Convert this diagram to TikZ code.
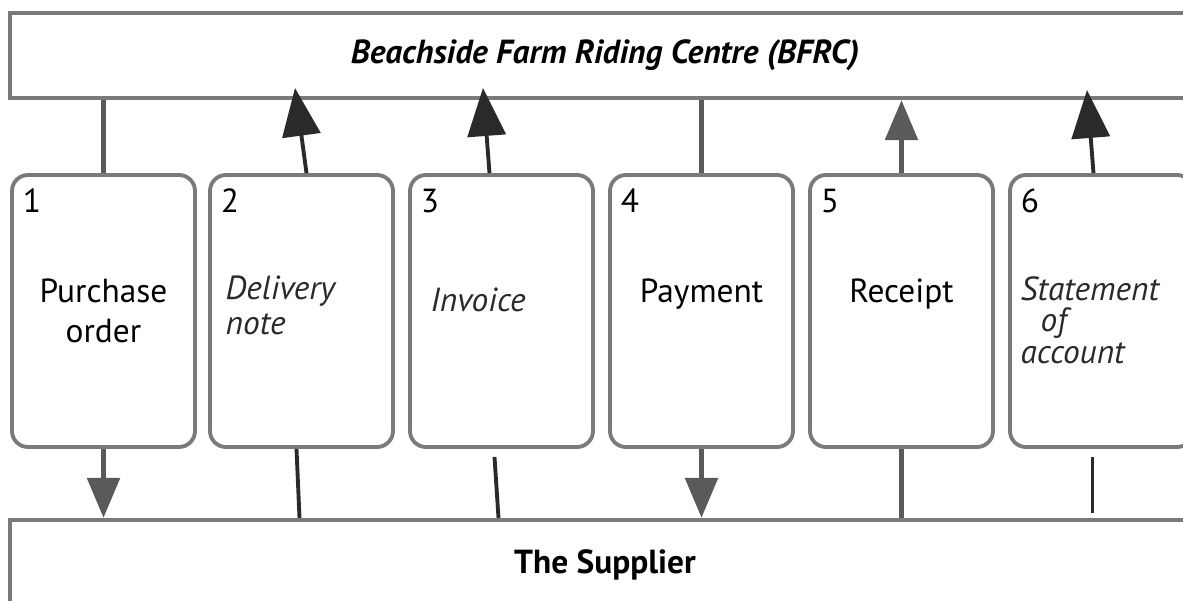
\documentclass[tikz,border=0pt]{standalone}
\usepackage{fontspec}
\setmainfont{PT Sans}
\usetikzlibrary{arrows.meta,positioning}
\definecolor{linegray}{HTML}{7A7A7A}
\definecolor{arrowgray}{HTML}{5A5A5A}
\definecolor{penink}{HTML}{2A2A2A}
\tikzset{
  party/.style={draw=linegray,line width=1.2pt,minimum width=11.9cm,inner sep=0pt},
  doc/.style={draw=linegray,line width=1.1pt,rounded corners=0.16cm,minimum width=1.83cm,minimum height=2.72cm,inner sep=0pt,align=center},
  docnum/.style={anchor=north west,inner sep=0pt},
  flow/.style={draw=arrowgray,line width=1.6pt},
  flowtip/.style={flow,-{Triangle[length=4mm,width=3.2mm]}},
  pen/.style={draw=penink,line width=1.1pt},
  pentip/.style={pen,-{Triangle[length=4.8mm,width=3.8mm]}},
  hand/.style={font=\fontsize{9.5}{11}\selectfont\itshape,text=penink,align=left,anchor=west,inner sep=0pt}
}
\begin{document}
\begin{tikzpicture}[font=\fontsize{9.5}{11.5}\selectfont]
  \useasboundingbox (0,0) rectangle (11.83,6);
  \clip (0,0) rectangle (11.83,6);
  \fill[white] (0,0) rectangle (11.83,6);
  % the two parties
  \node[party,minimum height=0.85cm] (bfrc) at (6.05,5.445) {\textbf{\textit{Beachside Farm Riding Centre (BFRC)}}};
  \node[party,minimum height=0.9cm] (sup) at (6.05,0.35) {\textbf{The Supplier}};
  % the six documents
  \node[doc] (c1) at (1.035,2.89) {Purchase\\order};
  \node[doc] (c2) at (3.015,2.89) {};
  \node[doc] (c3) at (5.015,2.89) {};
  \node[doc] (c4) at (7.015,2.89) {Payment\\\phantom{x}};
  \node[doc] (c5) at (9.015,2.89) {Receipt\\\phantom{x}};
  \node[doc] (c6) at (11.015,2.89) {};
  \node[docnum] (n1) at ([xshift=0.12cm,yshift=-0.15cm]c1.north west) {1};
  \node[docnum] (n2) at ([xshift=0.12cm,yshift=-0.15cm]c2.north west) {2};
  \node[docnum] (n3) at ([xshift=0.12cm,yshift=-0.15cm]c3.north west) {3};
  \node[docnum] (n4) at ([xshift=0.12cm,yshift=-0.15cm]c4.north west) {4};
  \node[docnum] (n5) at ([xshift=0.12cm,yshift=-0.15cm]c5.north west) {5};
  \node[docnum] (n6) at ([xshift=0.12cm,yshift=-0.15cm]c6.north west) {6};
  % handwritten answers
  \node[hand] (h2) at (2.25,2.95) {Delivery\\[-1pt]note};
  \node[hand] (h3) at (4.30,3.00) {Invoice};
  \node[hand] (h6) at (10.20,2.80) {Statement\\[-2pt]\hspace{0.2cm}of\\[-2pt]account};
  % 1 and 4: printed flows
  \draw[flow] (bfrc.south -| c1.north) -- (c1.north);
  \draw[flowtip] (c1.south) -- (sup.north -| c1.south);
  \draw[flow] (bfrc.south -| c4.north) -- (c4.north);
  \draw[flowtip] (c4.south) -- (sup.north -| c4.south);
  % 5: printed flow back to BFRC
  \draw[flowtip] (c5.north) -- (bfrc.south -| c5.north);
  \draw[flow] (sup.north -| c5.south) -- (c5.south);
  % 2, 3 and 6: drawn in by hand
  \coordinate (t2) at (2.95,5.12);
  \coordinate (t3) at (4.83,5.12);
  \coordinate (t6) at (10.87,5.10);
  \draw[pentip] ([xshift=0.05cm]c2.north) -- (t2);
  \draw[pentip] ([xshift=-0.12cm]c3.north) -- (t3);
  \draw[pentip] ([xshift=-0.08cm]c6.north) -- (t6);
  \draw[pen] ([xshift=-0.05cm]c2.south) -- ([xshift=-0.02cm]sup.north -| c2.south);
  \draw[pen] ([xshift=-0.07cm,yshift=-0.08cm]c3.south) -- ([xshift=-0.03cm]sup.north -| c3.south);
  \draw[pen] ([xshift=-0.09cm,yshift=-0.08cm]c6.south) -- ([xshift=-0.09cm,yshift=0.05cm]sup.north -| c6.south);
\end{tikzpicture}
\end{document}
